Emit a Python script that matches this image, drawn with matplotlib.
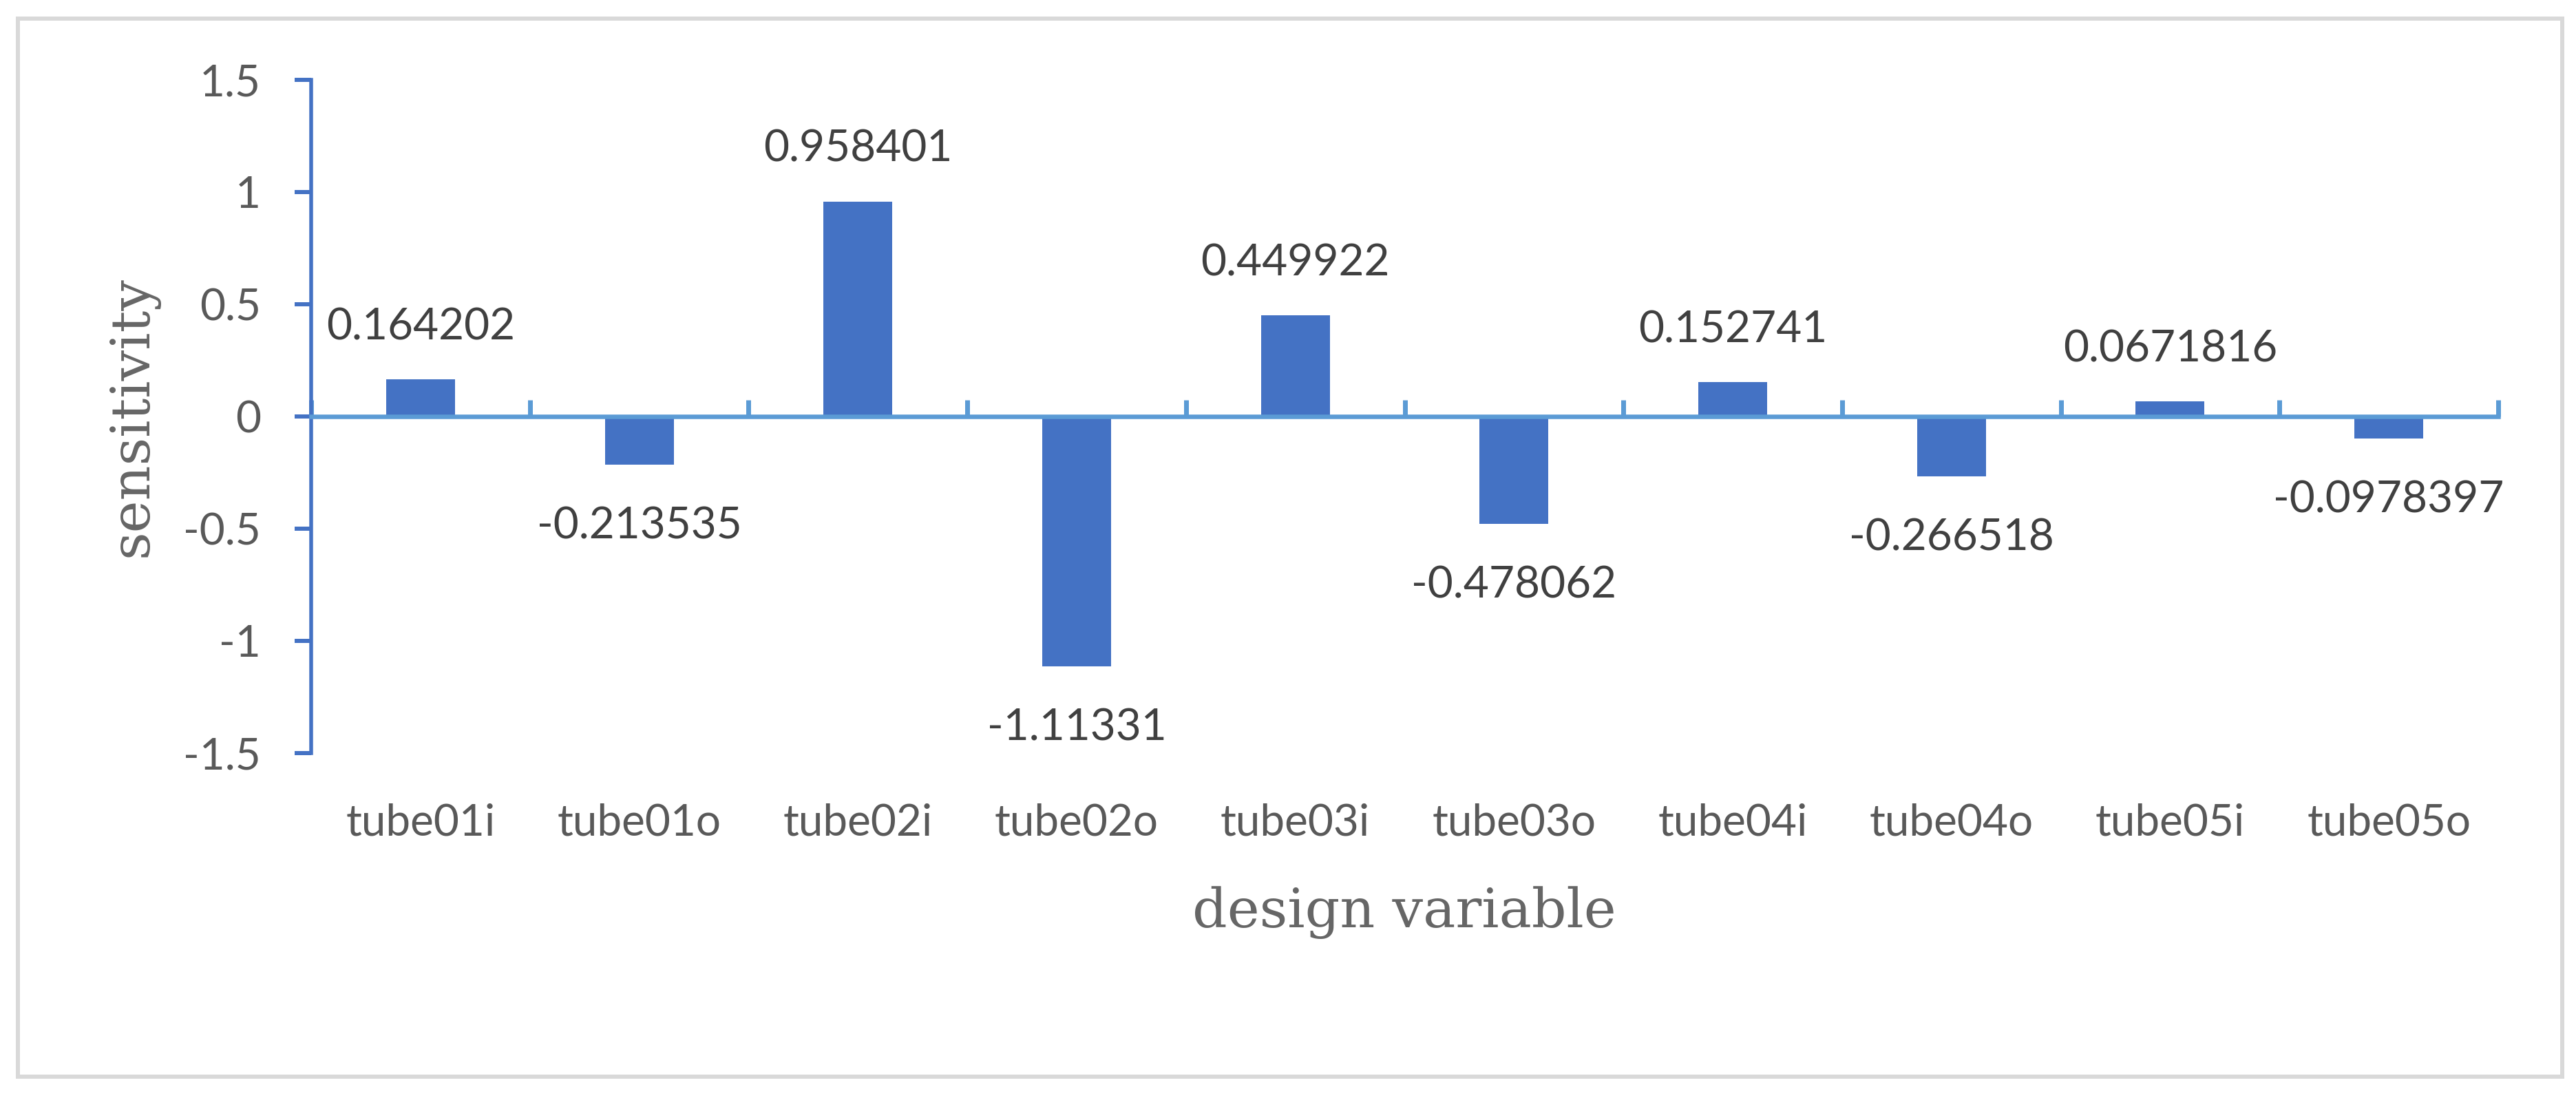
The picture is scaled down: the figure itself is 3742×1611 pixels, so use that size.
import matplotlib
matplotlib.use("Agg")
import matplotlib.pyplot as plt
from matplotlib.patches import Rectangle
from matplotlib.transforms import blended_transform_factory
import numpy as np

# ---------------- data ----------------
categories = ["tube01i", "tube01o", "tube02i", "tube02o", "tube03i",
              "tube03o", "tube04i", "tube04o", "tube05i", "tube05o"]
sensitivity = [0.164202, -0.213535, 0.958401, -1.11331, 0.449922,
               -0.478062, 0.152741, -0.266518, 0.0671816, -0.0978397]
y_ticks = [-1.5, -1, -0.5, 0, 0.5, 1, 1.5]
y_tick_labels = ["-1.5", "-1", "-0.5", "0", "0.5", "1", "1.5"]
x_title = "design variable"
y_title = "sensitivity"

# ---------------- figure ----------------
W, H, DPI = 3742, 1611, 100
PT = 72.0 / DPI  # points per pixel
fig = plt.figure(figsize=(W / DPI, H / DPI), dpi=DPI)
fig.patch.set_facecolor("white")

left, right, top, bottom = 452, 3629, 116, 1094
ax = fig.add_axes([left / W, 1 - bottom / H, (right - left) / W, (bottom - top) / H])

n = len(categories)
x = np.arange(n)
ax.bar(x, sensitivity, width=0.315, color="#4472C4", zorder=2)
ax.set_xlim(-0.5, n - 0.5)
ax.set_ylim(-1.5, 1.5)

# spines
for s in ("top", "right"):
    ax.spines[s].set_visible(False)
ax.spines["left"].set_color("#4472C4")
ax.spines["left"].set_linewidth(5.5 * PT)
ax.spines["bottom"].set_position(("data", 0))
ax.spines["bottom"].set_color("#5B9BD5")
ax.spines["bottom"].set_linewidth(6.5 * PT)
ax.spines["bottom"].set_zorder(3)

# x ticks at category boundaries, pointing up
ax.set_xticks(np.arange(-0.5, n, 1.0))
ax.set_xticklabels([])
ax.tick_params(axis="x", direction="in", length=24 * PT, width=7 * PT,
               color="#5B9BD5")

# y ticks
ax.set_yticks(y_ticks)
ax.set_yticklabels(y_tick_labels)
ax.tick_params(axis="y", direction="out", length=24 * PT, width=6 * PT,
               color="#4472C4", pad=49 * PT, labelsize=46, labelcolor="#595959")
for lab in ax.get_yticklabels():
    lab.set_family("Lato")

# category labels below the plot area
trans = blended_transform_factory(ax.transData, fig.transFigure)
for xi, cat in zip(x, categories):
    ax.text(xi, 1 - 1214 / H, cat, transform=trans, ha="center", va="baseline",
            fontsize=46, family="Lato", color="#595959", clip_on=False)

# data labels
for xi, v in zip(x, sensitivity):
    if v >= 0:
        off = 58
    else:
        off = -108
    ax.annotate(f"{v:g}", (xi, v), xytext=(0, off), textcoords="offset pixels",
                ha="center", va="baseline", fontsize=46, family="Lato",
                color="#404040", annotation_clip=False)

# axis titles
fig.text(2040 / W, 1 - 1347 / H, x_title, ha="center", va="baseline",
         fontsize=57, family="DejaVu Serif", color="#666666")
fig.text(193 / W, 1 - 605 / H, y_title, ha="center", va="center", rotation=90,
         fontsize=57, family="DejaVu Serif", color="#666666")

# chart border
fig.patches.append(Rectangle((26 / W, 1 - 1564 / H), (3722 - 26) / W, (1564 - 27) / H,
                             transform=fig.transFigure, fill=False,
                             edgecolor="#D9D9D9", linewidth=6 * PT))

fig.savefig("out.png", dpi=DPI)
